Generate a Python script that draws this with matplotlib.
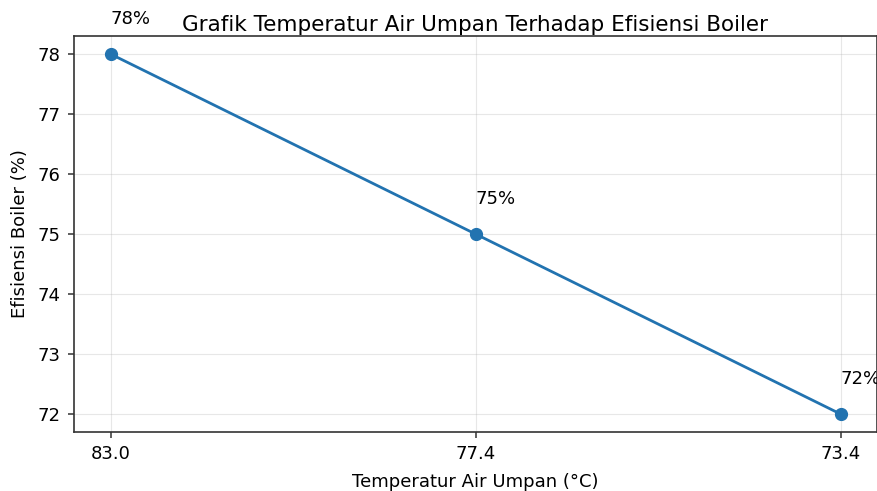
import matplotlib
matplotlib.use("Agg")
import matplotlib.pyplot as plt

temperatur = ["83.0", "77.4", "73.4"]
efisiensi = [78, 75, 72]

fig = plt.figure(figsize=(8.77, 4.91), dpi=100)
ax = fig.add_axes([74 / 877, 59 / 491, 803 / 877, 396 / 491])

x = range(len(temperatur))
ax.plot(x, efisiensi, marker="o", markersize=8.5, linewidth=2, color="#2273b0")
for i, v in zip(x, efisiensi):
    # label sits half a unit above each point (the last one runs off the edge, as in the original)
    ax.text(i, v + 0.5, f"{v}%", fontsize=13)

ax.set_xticks(list(x))
ax.set_xticklabels(temperatur)
ax.tick_params(labelsize=13, pad=5.5, color="#333333", width=1.1, length=4)
ax.set_title("Grafik Temperatur Air Umpan Terhadap Efisiensi Boiler", fontsize=15.5, pad=3.5)
ax.set_xlabel("Temperatur Air Umpan (°C)", fontsize=13, labelpad=7)
ax.set_ylabel("Efisiensi Boiler (%)", fontsize=13)
ax.yaxis.set_label_coords(-0.056, 0.5)
ax.grid(True, alpha=0.3)
for s in ax.spines.values():
    s.set_color("#333333")
    s.set_linewidth(1.2)

fig.savefig("out.png", dpi=100)
